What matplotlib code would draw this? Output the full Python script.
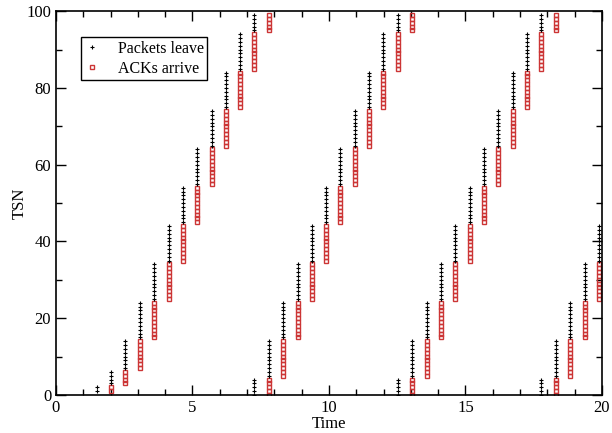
import matplotlib
matplotlib.use("Agg")
import matplotlib.pyplot as plt
from matplotlib.ticker import MultipleLocator
import numpy as np

plt.rcParams['font.family'] = ['Liberation Serif', 'DejaVu Serif']

# times at which each burst of packets leaves
burst_times = [1.49, 2.00, 2.54, 3.06, 3.60, 4.13, 4.66, 5.18, 5.70, 6.22,
               6.74, 7.27, 7.79, 8.33, 8.86, 9.37, 9.90, 10.42, 10.94, 11.47,
               11.99, 12.53, 13.06, 13.58, 14.10, 14.63, 15.15, 15.68, 16.20, 16.73,
               17.25, 17.78, 18.31, 18.84, 19.38, 19.90]
# packets in each burst (slow start, then 10 per round)
burst_sizes = [2, 4, 8] + [10] * 33
first_tsn = 1
tsn_wrap = 100

# packets leave: each burst numbered on from the last, TSN shown modulo 100
pkt_t, pkt_tsn = [], []
ack_t, ack_tsn = [], []
seq = first_tsn
for i, (t, n) in enumerate(zip(burst_times, burst_sizes)):
    tsns = [(seq + k) % tsn_wrap for k in range(n)]
    pkt_t += [t] * n
    pkt_tsn += tsns
    # the acks for this burst come back with the next burst
    if i + 1 < len(burst_times):
        ack_t += [burst_times[i + 1]] * n
        ack_tsn += tsns
    seq += n

fig = plt.figure(figsize=(6.12, 4.33), dpi=100)
ax = fig.add_axes([0.0915, 0.088, 0.892, 0.886])

ax.plot(pkt_t, pkt_tsn, '+', color='black', ms=3.4, mew=0.8, label='Packets leave', zorder=3)
ax.plot(ack_t, ack_tsn, 's', color='#cc3535', mfc='none', ms=3.1, mew=1.0,
        label='ACKs arrive', zorder=2)

ax.set_xlim(0, 20)
ax.set_ylim(0, 100)
ax.xaxis.set_major_locator(MultipleLocator(5))
ax.xaxis.set_minor_locator(MultipleLocator(1))
ax.yaxis.set_major_locator(MultipleLocator(20))
ax.yaxis.set_minor_locator(MultipleLocator(10))
ax.tick_params(which='both', direction='in', top=True, right=True, labelsize=12)
ax.tick_params(which='major', length=7, width=1)
ax.tick_params(which='minor', length=4, width=1)
for s in ax.spines.values():
    s.set_linewidth(1.2)

ax.set_xlabel('Time', fontsize=12, labelpad=0)
ax.set_ylabel('TSN', fontsize=12, labelpad=-1)

leg = ax.legend(loc='upper left', bbox_to_anchor=(0.046, 0.932), borderaxespad=0,
                fontsize=11.5, frameon=True, fancybox=False, edgecolor='black',
                framealpha=1, handlelength=1.0, handletextpad=1.1, borderpad=0.2,
                labelspacing=0.25, markerscale=0.7)
leg.get_frame().set_linewidth(1.0)

fig.savefig('out.png', dpi=100)
